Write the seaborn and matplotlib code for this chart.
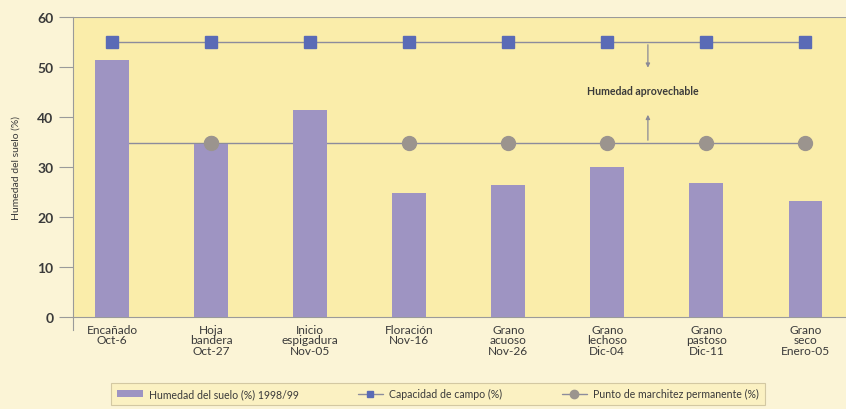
import matplotlib
matplotlib.use("Agg")
import matplotlib.pyplot as plt
import seaborn as sns
import pandas as pd
import numpy as np

categorias = ["Encañado\nOct-6", "Hoja\nbandera\nOct-27", "Inicio\nespigadura\nNov-05",
              "Floración\nNov-16", "Grano\nacuoso\nNov-26", "Grano\nlechoso\nDic-04",
              "Grano\npastoso\nDic-11", "Grano\nseco\nEnero-05"]
humedad = [51.4, 34.6, 41.4, 24.8, 26.4, 30.0, 26.8, 23.2]
capacidad = [55, 55, 55, 55, 55, 55, 55, 55]
marchitez = [34.8, 34.8, 34.8, 34.8, 34.8, 34.8, 34.8, 34.8]
yticks = [0, 10, 20, 30, 40, 50, 60]

sns.set_theme(style="white")
plt.rcParams["font.family"] = ["Lato", "DejaVu Sans"]

FIG_BG = "#FBF4D6"
AX_BG = "#FAEDAA"
BAR_C = "#9E94C2"
SQ_C = "#5A6BB6"
CI_C = "#9B948E"
LINE_C = "#8C8C9C"
TXT_C = "#3A3A3A"

df = pd.DataFrame({"cat": categorias, "hum": humedad, "cap": capacidad, "mar": marchitez})

fig = plt.figure(figsize=(8.46, 4.10), dpi=100, facecolor=FIG_BG)
ax = fig.add_axes([73/846, 1-318/410, 1-73/846, (318-18)/410])
ax.set_facecolor(AX_BG)

xs = np.arange(len(categorias))
ax.plot(xs, df["mar"], color=LINE_C, lw=1.0, marker="o", ms=10, mfc=CI_C, mec=CI_C, zorder=2)
sns.barplot(data=df, x="cat", y="hum", color=BAR_C, width=0.34, saturation=1, ax=ax, zorder=3,
            edgecolor="none")
ax.plot(xs, df["cap"], color=LINE_C, lw=1.0, marker="s", ms=8, mfc=SQ_C, mec=SQ_C, zorder=4)
# circle over Hoja bandera bar is visible
ax.plot([1], [marchitez[1]], marker="o", ms=10, color=CI_C, zorder=3.5, ls="none")

ax.set_xlim(-0.394, 7.41)
ax.set_ylim(0, 60)
ax.set_yticks(yticks)
ax.set_yticklabels([str(t) for t in yticks], fontsize=10, fontweight="bold", color=TXT_C)
ax.set_xticks(xs)
ax.set_xticklabels(categorias, fontsize=8.6, color=TXT_C, linespacing=0.95)
ax.set_xticks(np.arange(0.5, 7.5, 1.0), minor=True)
ax.tick_params(axis="x", which="major", length=0, pad=5)
ax.tick_params(axis="x", which="minor", length=8, width=0.8, color="#9A9A9A", direction="out")
ax.tick_params(axis="y", length=10, width=0.8, color="#9A9A9A", direction="out", pad=4, left=True)
for s in ["top", "right"]:
    ax.spines[s].set_visible(False)
ax.spines["left"].set_color("#9A9A9A")
ax.spines["left"].set_linewidth(0.8)
ax.spines["left"].set_bounds(-2.5, 60)
ax.spines["bottom"].set_color("#9A9A9A")
ax.spines["bottom"].set_linewidth(0.8)
ax.axhline(60, color="#9A9A9A", lw=0.8, zorder=1)
ax.set_xlabel("")
ax.set_ylabel("Humedad del suelo (%)", fontsize=7.5, color=TXT_C, labelpad=12)
ax.grid(False)

xa = 5.41
ax.annotate("", xy=(xa, 49.3), xytext=(xa, 55),
            arrowprops=dict(arrowstyle="-|>", color="#8A8A96", lw=0.9, mutation_scale=6), zorder=5)
ax.annotate("", xy=(xa, 41), xytext=(xa, 34.8),
            arrowprops=dict(arrowstyle="-|>", color="#8A8A96", lw=0.9, mutation_scale=6), zorder=5)
ax.text(xa - 0.05, 45.3, "Humedad aprovechable", ha="center", va="center", fontsize=7.6,
        fontweight="bold", color=TXT_C)

from matplotlib.patches import Patch
from matplotlib.lines import Line2D
handles = [Patch(facecolor=BAR_C, edgecolor="none"),
           Line2D([], [], color=LINE_C, lw=1, marker="s", ms=5, mfc=SQ_C, mec=SQ_C),
           Line2D([], [], color=LINE_C, lw=1, marker="o", ms=6, mfc=CI_C, mec=CI_C)]
labels = ["Humedad del suelo (%) 1998/99", "Capacidad de campo (%)", "Punto de marchitez permanente (%)"]
leg = fig.legend(handles, labels, loc="center", bbox_to_anchor=(0.518, 0.037), ncol=3,
                 fontsize=7.6, frameon=True, fancybox=False, columnspacing=5.6,
                 handlelength=2.4, handletextpad=0.6, borderpad=0.55, borderaxespad=0)
leg.get_frame().set_facecolor("#FCF1BE")
leg.get_frame().set_edgecolor("#C9BE98")
leg.get_frame().set_linewidth(0.8)
for t in leg.get_texts():
    t.set_color(TXT_C)

fig.savefig("out.png", dpi=100, facecolor=FIG_BG)
